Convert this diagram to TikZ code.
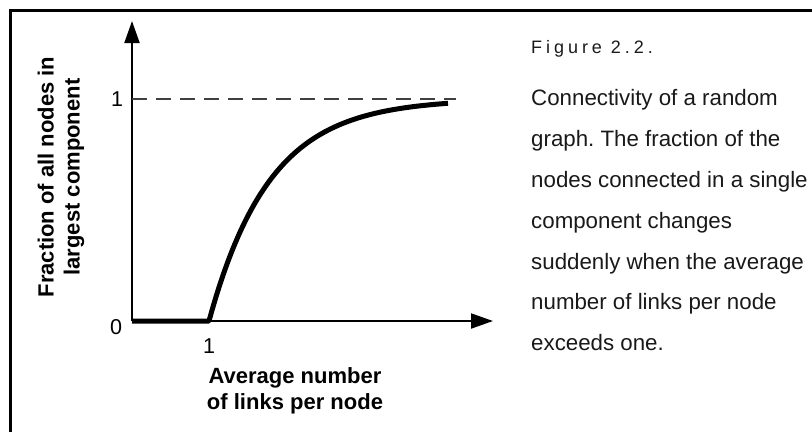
\documentclass[tikz,border=0pt]{standalone}
\usepackage{fontspec}
\setmainfont{Liberation Sans}
\newfontfamily\figfont[LetterSpace=22]{Liberation Sans}
\usetikzlibrary{arrows.meta}
\frenchspacing
\tikzset{
  frameline/.style={line width=3pt, black},
  axisline/.style={line width=2pt, black, -{Triangle[length=22pt,width=15pt]}},
  curveline/.style={line width=5pt, black, line join=round},
  dashline/.style={line width=1.6pt, black!75, dash pattern=on 15pt off 9pt},
  axlabel/.style={font=\fontsize{22}{26}\selectfont\bfseries, align=center, inner sep=0pt},
  ticklabel/.style={font=\fontsize{21.5}{24}\selectfont, inner sep=0pt},
  captxt/.style={font=\fontsize{22.3}{26}\selectfont, anchor=base west, inner sep=0pt, text=black!90},
}
\begin{document}
\begin{tikzpicture}[x=1pt,y=-1pt]
\useasboundingbox (0,0) rectangle (812,432);
% frame
\coordinate (fb) at (10,432);
\coordinate (fc) at (10,10);
\coordinate (fr) at (812,10);
\draw[frameline] (fb) -- (fc) -- (fr);
% axes
\coordinate (O) at (132,321);
\coordinate (ytip) at (132,21);
\coordinate (xtip) at (493,321);
\draw[axisline] (O) -- (ytip);
\draw[axisline] (O) -- (xtip);
% dashed level 1
\coordinate (d1) at (132,99);
\coordinate (d2) at (456,99);
\draw[dashline] (d1) -- (d2);
% curve
\coordinate (c1) at (209,321);
\draw[curveline] (O) -- (c1) -- plot[domain=209:448, samples=80, smooth] (\x, {321-222*(1-exp(-0.0165*(\x-209)))});
% tick labels
\node[ticklabel] (one) at (117,99) {1};
\node[ticklabel] (zero) at (116,327) {0};
\node[ticklabel] (onex) at (209,346) {1};
% axis labels
\node[axlabel, rotate=90] (ylab) at (61,177) {Fraction of all nodes in\\largest component};
\node[axlabel] (xlab) at (295,391) {Average number\\of links per node};
% caption
\node[captxt, font=\fontsize{18}{20}\figfont] (fig) at (531,53) {Figure 2.2.};
\node[captxt] (l1) at (531,105) {Connectivity of a random};
\node[captxt] (l2) at (531,146) {graph. The fraction of the};
\node[captxt] (l3) at (531,187) {nodes connected in a single};
\node[captxt] (l4) at (531,228) {component changes};
\node[captxt] (l5) at (531,269) {suddenly when the average};
\node[captxt] (l6) at (531,309) {number of links per node};
\node[captxt] (l7) at (531,350) {exceeds one.};
\end{tikzpicture}
\end{document}
